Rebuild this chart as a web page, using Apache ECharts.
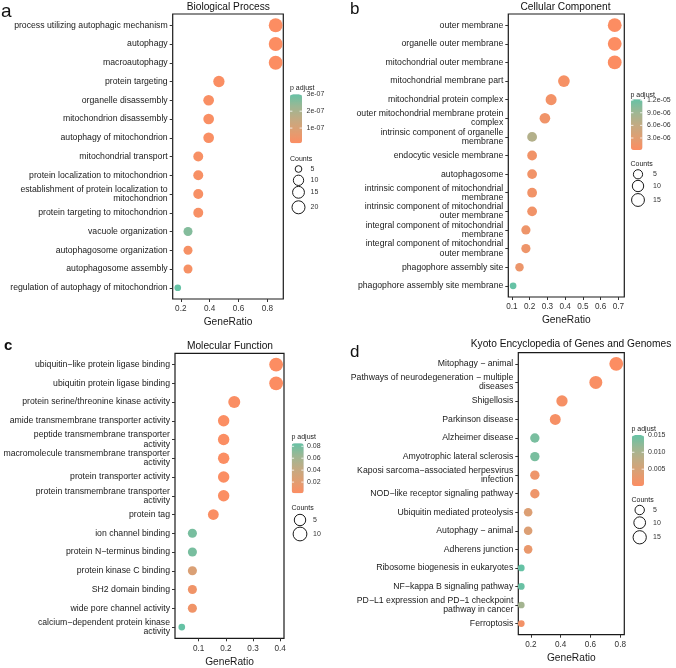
<!DOCTYPE html>
<html><head><meta charset="utf-8">
<script src="https://cdn.jsdelivr.net/npm/echarts@6/dist/echarts.min.js"></script>
<style>html,body{margin:0;padding:0;background:#fff}#c{width:676px;height:668px}</style>
</head><body><div id="c"></div>
<script>
// ---------- data ----------
const bpTerms = ["process utilizing autophagic mechanism","autophagy","macroautophagy","protein targeting","organelle disassembly","mitochondrion disassembly","autophagy of mitochondrion","mitochondrial transport","protein localization to mitochondrion","establishment of protein localization to\nmitochondrion","protein targeting to mitochondrion","vacuole organization","autophagosome organization","autophagosome assembly","regulation of autophagy of mitochondrion"];
const bpRatio = [0.857,0.857,0.857,0.464,0.393,0.393,0.393,0.321,0.321,0.321,0.321,0.25,0.25,0.25,0.179];
const bpCount = [24,24,24,13,11,11,11,9,9,9,9,7,7,7,5];
const bpPadj = [1.0e-8,1.0e-8,1.0e-8,1.6e-8,1.8e-8,1.8e-8,1.8e-8,2.2e-8,2.2e-8,2.2e-8,2.2e-8,2.6e-7,2.5e-8,2.5e-8,3.0e-7];
const bpTicks = [0.2,0.4,0.6,0.8];
const bpColorBreaks = [3e-7,2e-7,1e-7];
const bpColorLabels = ["3e-07","2e-07","1e-07"];
const bpSizeBreaks = [5,10,15,20];

const ccTerms = ["outer membrane","organelle outer membrane","mitochondrial outer membrane","mitochondrial membrane part","mitochondrial protein complex","outer mitochondrial membrane protein\ncomplex","intrinsic component of organelle\nmembrane","endocytic vesicle membrane","autophagosome","intrinsic component of mitochondrial\nmembrane","intrinsic component of mitochondrial\nouter membrane","integral component of mitochondrial\nmembrane","integral component of mitochondrial\nouter membrane","phagophore assembly site","phagophore assembly site membrane"];
const ccRatio = [0.679,0.679,0.679,0.393,0.321,0.286,0.214,0.214,0.214,0.214,0.214,0.179,0.179,0.143,0.107];
const ccCount = [19,19,19,11,9,8,6,6,6,6,6,5,5,4,3];
const ccPadj = [1.5e-7,1.5e-7,1.5e-7,8e-7,1.1e-6,1.4e-6,7.4e-6,1.3e-6,1.3e-6,1.3e-6,1.3e-6,1.6e-6,1.6e-6,1.8e-6,1.22e-5];
const ccTicks = [0.1,0.2,0.3,0.4,0.5,0.6,0.7];
const ccColorBreaks = [1.2e-5,9e-6,6e-6,3e-6];
const ccColorLabels = ["1.2e-05","9.0e-06","6.0e-06","3.0e-06"];
const ccSizeBreaks = [5,10,15];

const mfTerms = ["ubiquitin\u2212like protein ligase binding","ubiquitin protein ligase binding","protein serine/threonine kinase activity","amide transmembrane transporter activity","peptide transmembrane transporter\nactivity","macromolecule transmembrane transporter\nactivity","protein transporter activity","protein transmembrane transporter\nactivity","protein tag","ion channel binding","protein N\u2212terminus binding","protein kinase C binding","SH2 domain binding","wide pore channel activity","calcium\u2212dependent protein kinase\nactivity"];
const mfRatio = [0.385,0.385,0.231,0.192,0.192,0.192,0.192,0.192,0.154,0.077,0.077,0.077,0.077,0.077,0.038];
const mfCount = [10,10,6,5,5,5,5,5,4,2,2,2,2,2,1];
const mfPadj = [0.0012,0.0012,0.003,0.002,0.002,0.002,0.002,0.002,0.003,0.078,0.078,0.026,0.0096,0.0096,0.085];
const mfTicks = [0.1,0.2,0.3,0.4];
const mfColorBreaks = [0.08,0.06,0.04,0.02];
const mfColorLabels = ["0.08","0.06","0.04","0.02"];
const mfSizeBreaks = [5,10];

const kgTerms = ["Mitophagy \u2212 animal","Pathways of neurodegeneration \u2212 multiple\ndiseases","Shigellosis","Parkinson disease","Alzheimer disease","Amyotrophic lateral sclerosis","Kaposi sarcoma\u2212associated herpesvirus\ninfection","NOD\u2212like receptor signaling pathway","Ubiquitin mediated proteolysis","Autophagy \u2212 animal","Adherens junction","Ribosome biogenesis in eukaryotes","NF\u2212kappa B signaling pathway","PD\u2212L1 expression and PD\u22121 checkpoint\npathway in cancer","Ferroptosis"];
const kgRatio = [0.773,0.636,0.409,0.364,0.227,0.227,0.227,0.227,0.182,0.182,0.182,0.136,0.136,0.136,0.136];
const kgCount = [17,14,9,8,5,5,5,5,4,4,4,3,3,3,3];
const kgPadj = [3e-5,0.0004,0.0008,0.0008,0.0138,0.0138,0.0018,0.0018,0.0042,0.0042,0.0025,0.0151,0.0148,0.0105,0.0012];
const kgTicks = [0.2,0.4,0.6,0.8];
const kgColorBreaks = [0.015,0.010,0.005];
const kgColorLabels = ["0.015","0.010","0.005"];
const kgSizeBreaks = [5,10,15];

// ---------- layout / style ----------
const FONT = "'Liberation Sans', Arial, sans-serif";
const GRAD = ['#FC8D62','#DF9E72','#C2AB83','#9CB794','#66C2A5'];
const DMIN = 6.7, DMAX = 13.8;
function sz(c, lo, hi){ return DMIN + (DMAX-DMIN)*Math.sqrt((c-lo)/(hi-lo)); }

const panels = [
  {terms:bpTerms, ratio:bpRatio, count:bpCount, padj:bpPadj, ticks:bpTicks, cb:bpColorBreaks, cl:bpColorLabels, sb:bpSizeBreaks,
   title:"Biological Process", letter:"a",
   grid:{left:172.7, top:14, width:110.6, height:285}, xmin:0.144, xmax:0.910,
   cmin:1.0e-8, cmax:3.0e-7,
   titleXY:[228.3,7.5], letterXY:[1,2], letterSize:19, letterBold:false,
   leg:{tx:290, ty:88.3, bx:290, by:94.3, bw:12, bh:49, lx:306.5, ctY:159.3, cx:298.5, cys:[169,180.3,192.3,207.3], clx:310.5}},
  {terms:ccTerms, ratio:ccRatio, count:ccCount, padj:ccPadj, ticks:ccTicks, cb:ccColorBreaks, cl:ccColorLabels, sb:ccSizeBreaks,
   title:"Cellular Component", letter:"b",
   grid:{left:508.3, top:14, width:116, height:283}, xmin:0.080, xmax:0.733,
   cmin:1.5e-7, cmax:1.22e-5,
   titleXY:[565.5,7.5], letterXY:[350,1], letterSize:17, letterBold:false,
   leg:{tx:630.5, ty:95.5, bx:631, by:99.3, bw:11.5, bh:50.7, lx:647, ctY:164.3, cx:638, cys:[174.3,186,200], clx:653}},
  {terms:mfTerms, ratio:mfRatio, count:mfCount, padj:mfPadj, ticks:mfTicks, cb:mfColorBreaks, cl:mfColorLabels, sb:mfSizeBreaks,
   title:"Molecular Function", letter:"c",
   grid:{left:175, top:353.3, width:109, height:285}, xmin:0.013, xmax:0.414,
   cmin:0.0012, cmax:0.085,
   titleXY:[230,346.5], letterXY:[4,338], letterSize:15, letterBold:true,
   leg:{tx:291.5, ty:437.3, bx:291.7, by:443.3, bw:12, bh:50, lx:307, ctY:508.3, cx:300, cys:[520,534], clx:313}},
  {terms:kgTerms, ratio:kgRatio, count:kgCount, padj:kgPadj, ticks:kgTicks, cb:kgColorBreaks, cl:kgColorLabels, sb:kgSizeBreaks,
   title:"Kyoto Encyclopedia of Genes and Genomes", letter:"d",
   grid:{left:518.3, top:352.7, width:106, height:282}, xmin:0.116, xmax:0.827,
   cmin:3e-5, cmax:0.0151,
   titleXY:[571,344], letterXY:[350,344], letterSize:17, letterBold:false,
   leg:{tx:631.5, ty:429.3, bx:632, by:435, bw:12, bh:51, lx:648, ctY:500, cx:639.7, cys:[510,522.7,537.3], clx:653}}
];

const grids=[], xAxes=[], yAxes=[], series=[], visualMaps=[], graphics=[];
panels.forEach((p,i)=>{
  const n = p.terms.length;
  const idx = p.terms.map((_,k)=>k);
  const lo = Math.min(...p.count), hi = Math.max(...p.count);
  grids.push(Object.assign({show:true, borderColor:'#1a1a1a', borderWidth:1.2, backgroundColor:'transparent', containLabel:false}, p.grid));
  xAxes.push({type:'value', gridIndex:i, min:p.xmin, max:p.xmax,
    name:'GeneRatio', nameLocation:'middle', nameGap:18.5,
    nameTextStyle:{fontFamily:FONT, fontSize:10.2, color:'#1a1a1a'},
    splitLine:{show:false}, axisLine:{show:false, onZero:false},
    axisTick:{show:true, length:3, lineStyle:{color:'#333', width:1}, customValues:p.ticks},
    axisLabel:{customValues:p.ticks, fontFamily:FONT, fontSize:8.2, color:'#333', margin:6,
      formatter:v=>String(Math.round(v*10)/10)}});
  yAxes.push({type:'value', gridIndex:i, inverse:true, min:-0.6, max:n-1+0.6,
    splitLine:{show:false}, axisLine:{show:false, onZero:false},
    axisTick:{show:true, length:3, lineStyle:{color:'#333', width:1}, customValues:idx},
    axisLabel:{customValues:idx, fontFamily:FONT, fontSize:8.7, color:'#1a1a1a', margin:5, lineHeight:9.2, align:'right',
      formatter:v=>p.terms[Math.round(v)]}});
  series.push({type:'scatter', xAxisIndex:i, yAxisIndex:i,
    data:p.terms.map((t,k)=>[p.ratio[k], k, p.padj[k], p.count[k]]),
    symbolSize:(val)=>sz(val[3], lo, hi),
    itemStyle:{opacity:1}, emphasis:{disabled:true}});
  const L = p.leg;
  visualMaps.push({type:'continuous', seriesIndex:i, dimension:2, min:p.cmin, max:p.cmax,
    inRange:{color:GRAD}, orient:'vertical', left:L.bx, top:L.by, itemWidth:L.bw, itemHeight:L.bh,
    calculable:false, text:null, padding:0, hoverLink:false, showLabel:false});
  graphics.push({type:'text', x:p.titleXY[0], y:p.titleXY[1], z:100,
    style:{text:p.title, fontFamily:FONT, fontSize:10.2, fill:'#111', align:'center', verticalAlign:'middle'}});
  graphics.push({type:'text', x:p.letterXY[0], y:p.letterXY[1], z:100,
    style:{text:p.letter, fontFamily:FONT, fontSize:p.letterSize, fontWeight:p.letterBold?'bold':'normal', fill:'#111', align:'left', verticalAlign:'top'}});
  graphics.push({type:'text', x:L.tx, y:L.ty, z:100,
    style:{text:'p adjust', fontFamily:FONT, fontSize:7, fill:'#222', align:'left', verticalAlign:'middle'}});
  p.cb.forEach((v,k)=>{
    const y = L.by + (p.cmax - v)/(p.cmax - p.cmin)*L.bh;
    graphics.push({type:'text', x:L.lx, y:y, z:100,
      style:{text:p.cl[k], fontFamily:FONT, fontSize:7, fill:'#333', align:'left', verticalAlign:'middle'}});
    graphics.push({type:'line', z:100, shape:{x1:L.bx, y1:y, x2:L.bx+2.4, y2:y}, style:{stroke:'#fff', lineWidth:0.8}});
    graphics.push({type:'line', z:100, shape:{x1:L.bx+L.bw-2.4, y1:y, x2:L.bx+L.bw, y2:y}, style:{stroke:'#fff', lineWidth:0.8}});
  });
  graphics.push({type:'text', x:L.tx, y:L.ctY, z:100,
    style:{text:'Counts', fontFamily:FONT, fontSize:7, fill:'#222', align:'left', verticalAlign:'middle'}});
  p.sb.forEach((c,k)=>{
    const d = sz(c, lo, hi);
    graphics.push({type:'circle', z:100, shape:{cx:L.cx, cy:L.cys[k], r:d/2}, style:{fill:'none', stroke:'#1a1a1a', lineWidth:1}});
    graphics.push({type:'text', x:L.clx, y:L.cys[k], z:100,
      style:{text:String(c), fontFamily:FONT, fontSize:7, fill:'#333', align:'left', verticalAlign:'middle'}});
  });
});

const chart = echarts.init(document.getElementById('c'), null, {renderer:'canvas'});
chart.setOption({
  animation:false,
  backgroundColor:'#fff',
  textStyle:{fontFamily:FONT},
  grid:grids, xAxis:xAxes, yAxis:yAxes, series:series, visualMap:visualMaps,
  graphic:{elements:graphics}
});
</script></body></html>
